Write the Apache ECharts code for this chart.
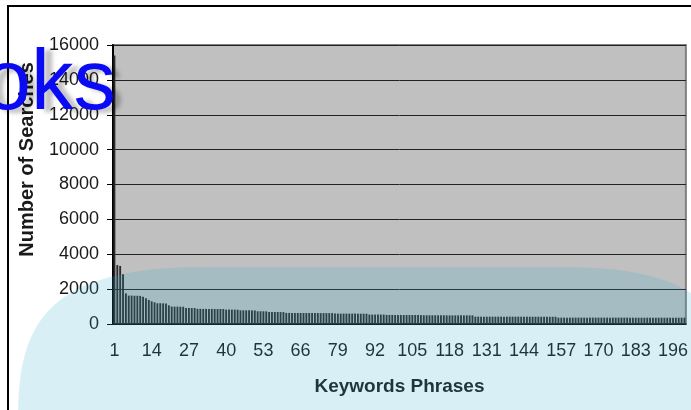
<!DOCTYPE html>
<html>
<head>
<meta charset="utf-8">
<script src="https://cdn.jsdelivr.net/npm/echarts@6/dist/echarts.min.js"></script>
<style>
  html, body { margin: 0; padding: 0; background: #fff; }
  #chart { width: 691px; height: 410px; }
</style>
</head>
<body>
<div id="chart"></div>
<script>
// keyword phrases ranked 1..200
var phrases = [];
for (var i = 1; i <= 200; i++) phrases.push(String(i));

// searches per phrase
var searches = [
  15400, 3380, 3330, 2850, 1760, 1630, 1630, 1620, 1620, 1610,
  1560, 1470, 1380, 1300, 1245, 1190, 1190, 1185, 1180, 1070,
  1000, 995, 995, 990, 990, 920, 920, 915, 915, 870,
  870, 865, 865, 865, 865, 860, 860, 860, 860, 825,
  825, 825, 825, 820, 785, 785, 785, 785, 780, 780,
  730, 730, 730, 725, 690, 690, 690, 690, 685, 685,
  635, 635, 635, 630, 630, 630, 630, 630, 630, 630,
  630, 630, 625, 625, 625, 625, 625, 595, 595, 595,
  595, 595, 595, 595, 595, 590, 590, 590, 590, 540,
  540, 540, 540, 540, 540, 520, 520, 520, 515, 515,
  515, 515, 515, 515, 515, 515, 515, 510, 500, 500,
  500, 500, 500, 500, 500, 500, 495, 495, 495, 495,
  495, 495, 495, 495, 495, 495, 420, 420, 420, 420,
  420, 420, 420, 420, 420, 420, 420, 420, 420, 420,
  420, 420, 420, 420, 420, 415, 415, 415, 415, 415,
  415, 415, 415, 415, 415, 365, 365, 365, 365, 365,
  365, 365, 365, 365, 365, 365, 365, 365, 365, 365,
  365, 365, 365, 365, 365, 365, 365, 365, 365, 365,
  360, 360, 360, 360, 360, 360, 360, 360, 360, 360,
  360, 360, 360, 360, 360, 360, 360, 360, 360, 360
];

var yTicks = [0, 2000, 4000, 6000, 8000, 10000, 12000, 14000, 16000];

// outline of the pale blue blob (decoration, pixel space)
function bez(p0, p1, p2, p3, n, out) {
  for (var k = 0; k <= n; k++) {
    var t = k / n, u = 1 - t;
    out.push([
      u * u * u * p0[0] + 3 * u * u * t * p1[0] + 3 * u * t * t * p2[0] + t * t * t * p3[0],
      u * u * u * p0[1] + 3 * u * u * t * p1[1] + 3 * u * t * t * p2[1] + t * t * t * p3[1]
    ]);
  }
}
var blob = [];
bez([18, 420], [18, 330], [40, 268], [200, 267], 30, blob);
bez([560, 267], [640, 267], [690, 280], [720, 320], 30, blob);
blob.push([720, 420]);

var chart = echarts.init(document.getElementById('chart'));
chart.setOption({
  animation: false,
  textStyle: { fontFamily: 'Liberation Sans, Arial, sans-serif' },
  grid: {
    left: 113, right: 3, top: 45, bottom: 86,
    show: true,
    backgroundColor: '#c0c0c0',
    borderColor: '#808080',
    borderWidth: 2
  },
  xAxis: {
    type: 'category',
    data: phrases,
    name: 'Keywords Phrases',
    nameLocation: 'middle',
    nameGap: 53,
    nameTextStyle: { fontSize: 19, fontWeight: 'bold', color: '#1a1a1a' },
    axisLine: { lineStyle: { color: '#000', width: 1.5 } },
    axisTick: { interval: 0, length: 6, lineStyle: { color: '#000' } },
    axisLabel: { interval: 12, margin: 18, fontSize: 18, color: '#1a1a1a' }
  },
  yAxis: {
    type: 'value',
    min: yTicks[0],
    max: yTicks[yTicks.length - 1],
    interval: 2000,
    name: 'Number of Searches',
    nameLocation: 'middle',
    nameGap: 76,
    nameTextStyle: { fontSize: 20, fontWeight: 'bold', color: '#1a1a1a', padding: [0, 0, 0, 50] },
    axisLine: { show: true, lineStyle: { color: '#000', width: 2 } },
    axisTick: { show: true, length: 6, lineStyle: { color: '#000' } },
    axisLabel: {
      margin: 14, fontSize: 18, color: '#1a1a1a',
      formatter: function (v) { return String(v); }
    },
    splitLine: { lineStyle: { color: '#222', width: 1 } }
  },
  series: [{
    type: 'bar',
    data: searches,
    barCategoryGap: '35%',
    itemStyle: { color: '#2b2b2b' }
  }],
  graphic: [
    {
      // chart area border
      type: 'rect',
      z: 1,
      silent: true,
      shape: { x: 8, y: 6, width: 720, height: 440 },
      style: { fill: null, stroke: '#000', lineWidth: 2 }
    },
    {
      // translucent blue blob over the lower part
      type: 'polygon',
      z: 100,
      silent: true,
      shape: { points: blob },
      style: { fill: 'rgba(45,171,202,0.19)' }
    },
    {
      type: 'text',
      z: 101,
      silent: true,
      x: 116,
      y: 128,
      style: {
        text: 'oks',
        font: '85px "Liberation Sans", Arial, sans-serif',
        fill: '#0a0af5',
        align: 'right',
        verticalAlign: 'bottom',
        textShadowColor: 'rgba(0,0,0,0.25)',
        textShadowBlur: 4,
        textShadowOffsetX: 8,
        textShadowOffsetY: 3
      }
    }
  ]
});
</script>
</body>
</html>
